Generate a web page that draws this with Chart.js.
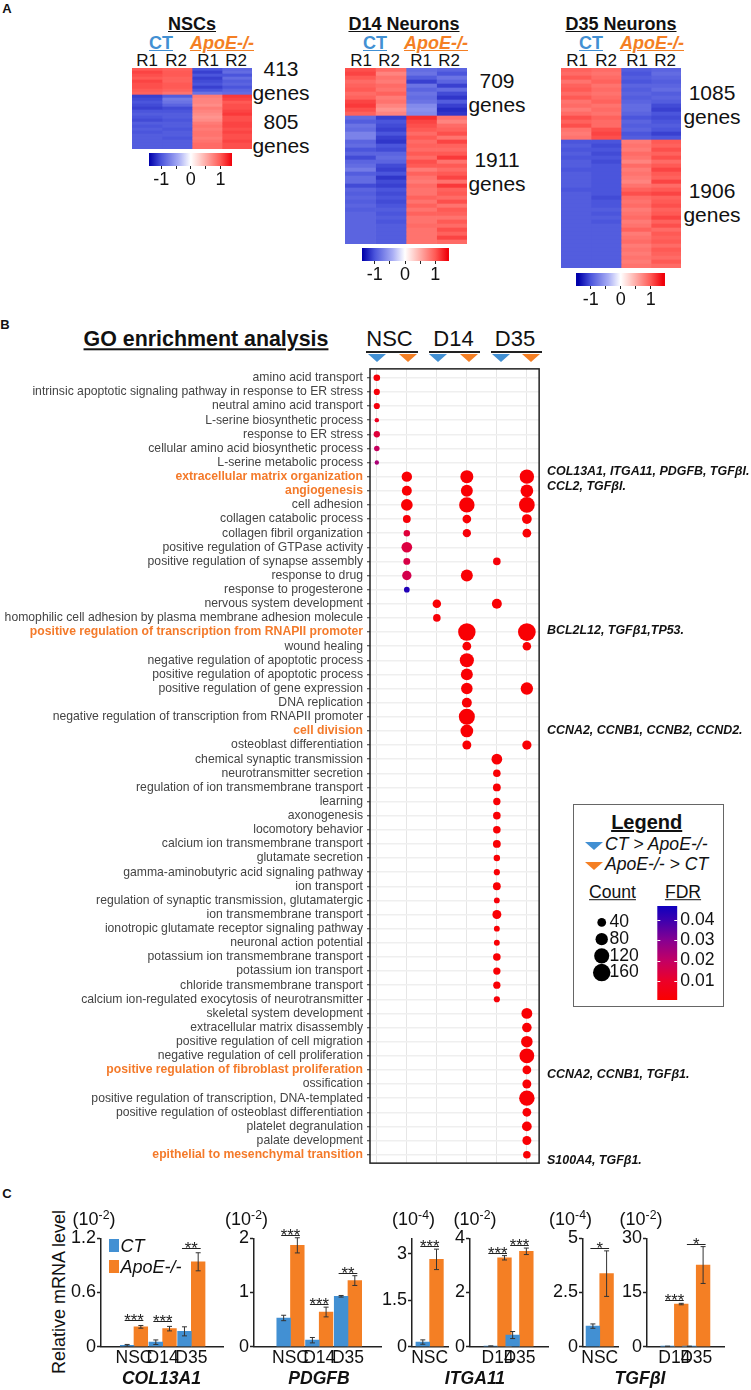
<!DOCTYPE html>
<html><head><meta charset="utf-8">
<script src="https://cdn.jsdelivr.net/npm/chart.js@4/dist/chart.umd.js"></script>
<style>
html,body{margin:0;padding:0;background:#fff;width:751px;height:1390px;overflow:hidden}
#page{position:relative;width:751px;height:1390px;font-family:"Liberation Sans",Arial,sans-serif;color:#111}
canvas{position:absolute;display:block}
.t{position:absolute;white-space:nowrap;line-height:1}
.t sup{font-size:.68em;line-height:0;vertical-align:.5em}
.tri{position:absolute;width:0;height:0;border-style:solid;border-color:transparent;border-bottom-width:0}
</style></head><body><div id="page"></div>
<script>
// ---------- heatmap values (z-scores, one array per sample column, top to bottom) ----------
const nscCtR1=[1.0,1.1,1.05,1.0,1.1,1.05,1.05,1.0,.95,-1.1,-1.05,-1.0,-1.05,-1.1,-1.0,-.95,-1.0,-1.05,-.95,-1.0,-.95,-1.0,-.95,-.95,-.95,-.95,-.95];
const nscCtR2=[.95,1.0,1.0,.95,.95,1.0,1.0,.95,.85,-.95,-.75,-.8,-.9,-1.05,-1.0,-.95,-.95,-1.0,-.95,-.95,-1.0,-.95,-.95,-1.0,-.95,-.95,-.95];
const nscKoR1=[-1.0,-1.1,-1.0,-1.1,-1.05,-1.0,-1.1,-1.0,-.8,.8,.75,.75,.7,.8,.75,.7,.65,.7,.8,.85,.8,.85,.85,.8,.85,.9,.9];
const nscKoR2=[-.9,-.85,-1.0,-.85,-.95,-.9,-1.0,-.9,-.85,1.15,1.1,1.0,1.05,1.05,1.1,1.15,1.05,1.05,1.1,1.1,1.05,1.1,1.05,1.05,1.1,1.05,1.05];
const d14CtR1=[1.05,1.1,1.0,.9,.95,1.0,.9,.95,1.1,1.15,1.05,.95,-.85,-.95,-.8,-.85,-.7,-.7,-.9,-.85,-1.0,-.9,-1.05,-.9,-.85,-.75,-.95,-.85,-.85,-1.05,-.9,-.95,-.9,-.95,-.9,-.95,-.9,-.9,-.9,-.9,-.9,-.9,-.9,-.9];
const d14CtR2=[.9,.75,.85,.8,.9,.85,.95,.8,.85,.75,.65,.75,-1.1,-1.0,-1.05,-1.1,-1.0,-1.1,-1.15,-1.0,-1.05,-.9,-.85,-.9,-1.05,-1.1,-1.0,-1.15,-1.05,-1.1,-1.0,-1.05,-1.0,-1.05,-1.0,-.95,-1.0,-.95,-1.0,-.95,-.95,-.95,-.95,-.95];
const d14KoR1=[-.85,-.8,-.95,-1.1,-.8,-.9,-.8,-.85,-.8,-.65,-.6,-.65,1.2,1.1,1.05,1.0,.9,1.0,.9,.95,.9,1.0,.9,1.05,1.0,.8,.95,.85,.8,.9,.85,.85,.95,.85,.95,.85,.95,.85,.85,.9,.85,.85,.85,.85];
const d14KoR2=[-.9,-1.0,-.8,-.9,-1.1,-.85,-1.05,-1.15,-.95,-1.1,-1.2,-1.15,.85,.75,.9,.95,1.05,.85,1.1,.95,.9,1.0,1.15,.85,1.0,.9,1.0,1.1,.85,1.15,.95,1.0,.9,1.05,.85,1.0,.95,.85,1.0,.9,1.05,.95,1.1,.9];
const d35CtR1=[.95,.9,1.0,.85,.95,1.0,.9,1.0,.85,.9,.8,.9,1.05,.95,1.05,.85,.8,.85,-1.0,-.95,-1.0,-.95,-1.0,-.95,-.95,-1.0,-.95,-.95,-.95,-.95,-1.0,-.95,-.95,-.95,-.95,-.95,-.95,-.95,-.95,-.95,-.95,-.95,-.95,-.95,-.95,-.95,-.95,-.95,-.95,-.95];
const d35CtR2=[.9,.85,.9,.95,.85,.9,.85,.9,.95,.85,.9,.85,.95,.9,.9,1.05,1.1,1.05,-1.0,-1.05,-1.0,-1.05,-1.0,-1.05,-1.0,-1.0,-1.0,-1.0,-1.0,-1.0,-1.0,-1.0,-1.05,-1.0,-1.0,-.95,-1.0,-.95,-1.0,-.95,-.95,-.95,-.95,-.95,-.95,-.95,-.95,-.95,-.95,-.95];
const d35KoR1=[-.95,-1.0,-.95,-1.0,-.9,-.95,-.9,-.95,-.9,-.85,-.85,-.9,-1.0,-.9,-.95,-.9,-1.0,-.95,.8,.85,.8,.9,.85,.75,.9,.8,.85,.8,.75,.85,.95,1.05,.9,.85,.9,.8,.85,.9,.8,.85,.95,.8,.85,.9,.8,.85,.8,.85,.8,.85];
const d35KoR2=[-.9,-.85,-.9,-.95,-.9,-.85,-.95,-.9,-.95,-1.05,-1.1,-1.0,-1.05,-1.0,-.95,-1.0,-1.1,-1.0,1.0,.95,1.05,.95,1.05,.9,1.0,1.1,1.0,.95,1.1,.9,1.0,1.1,.95,1.0,1.05,.95,1.0,1.1,.95,1.05,.9,1.0,.95,1.0,.9,1.0,.95,.9,1.0,.9];
const sampleLabels=["R1","R2","R1","R2"];

// ---------- GO terms ----------
const goTerms=["amino acid transport","intrinsic apoptotic signaling pathway in response to ER stress","neutral amino acid transport","L-serine biosynthetic process","response to ER stress","cellular amino acid biosynthetic process","L-serine metabolic process","extracellular matrix organization","angiogenesis","cell adhesion","collagen catabolic process","collagen fibril organization","positive regulation of GTPase activity","positive regulation of synapse assembly","response to drug","response to progesterone","nervous system development","homophilic cell adhesion by plasma membrane adhesion molecule","positive regulation of transcription from RNAPII promoter","wound healing","negative regulation of apoptotic process","positive regulation of apoptotic process","positive regulation of gene expression","DNA replication","negative regulation of transcription from RNAPII promoter","cell division","osteoblast differentiation","chemical synaptic transmission","neurotransmitter secretion","regulation of ion transmembrane transport","learning","axonogenesis","locomotory behavior","calcium ion transmembrane transport","glutamate secretion","gamma-aminobutyric acid signaling pathway","ion transport","regulation of synaptic transmission, glutamatergic","ion transmembrane transport","ionotropic glutamate receptor signaling pathway","neuronal action potential","potassium ion transmembrane transport","potassium ion transport","chloride transmembrane transport","calcium ion-regulated exocytosis of neurotransmitter","skeletal system development","extracellular matrix disassembly","positive regulation of cell migration","negative regulation of cell proliferation","positive regulation of fibroblast proliferation","ossification","positive regulation of transcription, DNA-templated","positive regulation of osteoblast differentiation","platelet degranulation","palate development","epithelial to mesenchymal transition"];
const goHighlighted=["extracellular matrix organization","angiogenesis","positive regulation of transcription from RNAPII promoter","cell division","positive regulation of fibroblast proliferation","epithelial to mesenchymal transition"];
// each dot: [term, count, FDR]
const nscCtDots=[["amino acid transport",23,.002],["intrinsic apoptotic signaling pathway in response to ER stress",20,.002],["neutral amino acid transport",20,.003],["L-serine biosynthetic process",10,.008],["response to ER stress",21,.013],["cellular amino acid biosynthetic process",16,.019],["L-serine metabolic process",10,.024]];
const nscKoDots=[["extracellular matrix organization",57,.001],["angiogenesis",52,.001],["cell adhesion",72,.001],["collagen catabolic process",32,.002],["collagen fibril organization",22,.013],["positive regulation of GTPase activity",60,.014],["positive regulation of synapse assembly",25,.015],["response to drug",46,.016],["response to progesterone",17,.046]];
const d14CtDots=[["nervous system development",38,.001],["homophilic cell adhesion by plasma membrane adhesion molecule",30,.002]];
const d14KoDots=[["extracellular matrix organization",89,.001],["angiogenesis",75,.001],["cell adhesion",125,.001],["collagen catabolic process",40,.001],["collagen fibril organization",36,.002],["response to drug",75,.001],["positive regulation of transcription from RNAPII promoter",160,.001],["wound healing",40,.001],["negative regulation of apoptotic process",105,.001],["positive regulation of apoptotic process",75,.001],["positive regulation of gene expression",70,.001],["DNA replication",52,.001],["negative regulation of transcription from RNAPII promoter",135,.001],["cell division",85,.001],["osteoblast differentiation",42,.001]];
const d35CtDots=[["positive regulation of synapse assembly",30,.002],["nervous system development",52,.001],["chemical synaptic transmission",60,.001],["neurotransmitter secretion",30,.001],["regulation of ion transmembrane transport",32,.001],["learning",28,.001],["axonogenesis",30,.001],["locomotory behavior",30,.001],["calcium ion transmembrane transport",32,.001],["glutamate secretion",22,.001],["gamma-aminobutyric acid signaling pathway",20,.001],["ion transport",32,.001],["regulation of synaptic transmission, glutamatergic",18,.002],["ion transmembrane transport",42,.001],["ionotropic glutamate receptor signaling pathway",18,.001],["neuronal action potential",18,.001],["potassium ion transmembrane transport",30,.001],["potassium ion transport",28,.001],["chloride transmembrane transport",28,.001],["calcium ion-regulated exocytosis of neurotransmitter",20,.002]];
const d35KoDots=[["extracellular matrix organization",108,.001],["angiogenesis",85,.001],["cell adhesion",130,.001],["collagen catabolic process",50,.001],["collagen fibril organization",40,.001],["positive regulation of transcription from RNAPII promoter",165,.001],["wound healing",38,.001],["positive regulation of gene expression",80,.001],["osteoblast differentiation",45,.001],["skeletal system development",62,.001],["extracellular matrix disassembly",48,.001],["positive regulation of cell migration",70,.001],["negative regulation of cell proliferation",115,.001],["positive regulation of fibroblast proliferation",40,.001],["ossification",42,.001],["positive regulation of transcription, DNA-templated",125,.001],["positive regulation of osteoblast differentiation",40,.001],["platelet degranulation",50,.001],["palate development",42,.001],["epithelial to mesenchymal transition",30,.001]];
const legendCounts=[40,80,120,160];
const fdrTicks=[.01,.02,.03,.04];

// ---------- qPCR ----------
const col13Groups=["NSC","D14","D35"], col13Ct=[.015,.05,.17], col13CtErr=[.01,.025,.05], col13Ko=[.22,.20,.94], col13KoErr=[.015,.025,.1], col13Sig=["***","***","**"], col13Ticks=[0,.6,1.2];
const pdgfbGroups=["NSC","D14","D35"], pdgfbCt=[.53,.12,.93], pdgfbCtErr=[.05,.05,.015], pdgfbKo=[1.87,.64,1.22], pdgfbKoErr=[.14,.09,.09], pdgfbSig=["***","***","**"], pdgfbTicks=[0,1,2];
const itga4Groups=["NSC"], itga4Ct=[.15], itga4CtErr=[.07], itga4Ko=[2.82], itga4KoErr=[.33], itga4Sig=["***"], itga4Ticks=[0,1.5,3];
const itga2Groups=["D14","D35"], itga2Ct=[.02,.43], itga2CtErr=[.01,.13], itga2Ko=[3.28,3.52], itga2KoErr=[.08,.12], itga2Sig=["***","***"], itga2Ticks=[0,2,4];
const tgf4Groups=["NSC"], tgf4Ct=[.95], tgf4CtErr=[.1], tgf4Ko=[3.37], tgf4KoErr=[1.05], tgf4Sig=["*"], tgf4Ticks=[0,2.5,5];
const tgf2Groups=["D14","D35"], tgf2Ct=[.1,.1], tgf2CtErr=[.05,.05], tgf2Ko=[11.8,22.6], tgf2KoErr=[.2,5.1], tgf2Sig=["***","*"], tgf2Ticks=[0,15,30];

// ---------- helpers ----------
const BLUE="#4290d3", ORANGE="#f47f24", FONT='"Liberation Sans",Arial,sans-serif';
Chart.defaults.font.family=FONT; Chart.defaults.color="#111";
Chart.defaults.animation=false; Chart.defaults.responsive=false;
Chart.defaults.plugins.legend.display=false; Chart.defaults.plugins.tooltip.enabled=false;
Chart.defaults.events=[];
const page=document.getElementById("page");
function txt(html,x,y,size,o={}){const d=document.createElement("div");d.className="t";d.innerHTML=html;
 const tx={l:"0",c:"-50%",r:"-100%"}[o.a||"c"];
 d.style.cssText+=`left:${x}px;top:${y}px;font-size:${size}px;transform:translate(${tx},-50%)${o.rot?` rotate(${o.rot}deg)`:""};`+(o.b?"font-weight:bold;":"")+(o.i?"font-style:italic;":"")+(o.u?"text-decoration:underline;":"")+(o.c?`color:${o.c};`:"");
 page.appendChild(d);return d}
function tri(cx,top,w,h,color){const d=document.createElement("div");d.className="tri";
 d.style.cssText+=`left:${cx-w/2}px;top:${top}px;border-width:${h}px ${w/2}px 0 ${w/2}px;border-top-color:${color};`;page.appendChild(d)}
function cv(l,t,w,h){const c=document.createElement("canvas");c.width=w;c.height=h;c.style.left=l+"px";c.style.top=t+"px";c.style.width=w+"px";c.style.height=h+"px";page.appendChild(c);return c}
function fixBox(s,w,h){if(w!==null)s.width=w;if(h!==null)s.height=h;s.paddingLeft=s.paddingRight=s.paddingTop=s.paddingBottom=0}
const zStops=[[-1.41,[0,0,170]],[-1,[75,85,220]],[-.4,[170,175,245]],[0,[255,255,255]],[.4,[255,190,185]],[1,[255,90,85]],[1.41,[240,0,10]]];
const fdrStops=[[0,[250,0,0]],[.01,[236,0,40]],[.02,[195,0,100]],[.03,[135,0,145]],[.04,[60,0,175]],[.05,[15,0,190]]];
function ramp(stops,v){if(v<=stops[0][0])return `rgb(${stops[0][1]})`;
 for(let i=1;i<stops.length;i++){if(v<=stops[i][0]){const[a,ca]=stops[i-1],[b,cb]=stops[i],f=(v-a)/(b-a);
  return `rgb(${ca.map((c,k)=>Math.round(c+(cb[k]-c)*f))})`}}
 return `rgb(${stops[stops.length-1][1]})`}
const radius=c=>.69*Math.sqrt(c);

// ---------- panel A ----------
function heat(l,t,w,h,cols){const labels=cols[0].map((_,i)=>i);
 new Chart(cv(l,t,w,h),{type:"bar",data:{labels,datasets:cols.map((col,i)=>({label:sampleLabels[i],data:col.map(()=>1),backgroundColor:col.map(z=>ramp(zStops,z)),borderWidth:0,barPercentage:1,categoryPercentage:1}))},
 options:{indexAxis:"y",layout:{padding:0},scales:{x:{display:false,stacked:true,min:0,max:4},y:{display:false,stacked:true}}}})}
function zbar(left,right,zero,unit,top,bottom){
 const pad=12,H=bottom-top;
 new Chart(cv(left-pad,top,right-left+2*pad,H+24),{type:"bar",data:{labels:["z"],datasets:[{data:[[(left-zero)/unit,(right-zero)/unit]],borderWidth:0,barPercentage:1,categoryPercentage:1,
  backgroundColor:c=>{const a=c.chart.chartArea;if(!a)return"#fff";const g=c.chart.ctx.createLinearGradient(a.left,0,a.right,0);zStops.forEach(([z,col])=>{const p=(z-(left-zero)/unit)/((right-left)/unit);g.addColorStop(Math.min(1,Math.max(0,p)),`rgb(${col})`)});return g}}]},
 options:{indexAxis:"y",layout:{padding:{left:pad,right:pad}},scales:{y:{display:false},
  x:{min:(left-zero)/unit,max:(right-zero)/unit,afterBuildTicks:s=>{s.ticks=[-1,-.5,0,.5,1].map(value=>({value}))},afterFit:s=>fixBox(s,null,24),border:{display:false},
   grid:{drawOnChartArea:false,tickLength:3,tickColor:"#222",tickWidth:1},ticks:{font:{size:18},padding:0,autoSkip:false,maxRotation:0,color:"#111",callback:v=>Number.isInteger(v)?String(v):""}}}}})}
function heatHead(title,titleX,ctX,koX,rX){
 txt(title,titleX,24,18,{b:1,u:1});txt("CT",ctX,43,18,{b:1,u:1,c:BLUE});txt("ApoE-/-",koX,43,18,{b:1,i:1,u:1,c:ORANGE});
 sampleLabels.forEach((s,i)=>txt(s,rX[i],59.5,17))}
txt("A",7,8,13,{b:1});
heatHead("NSCs",192,161,222,[147,176,208,236]);
heat(132,68,120,81,[nscCtR1,nscCtR2,nscKoR1,nscKoR2]);
zbar(148.5,232,190.6,29.8,153,166);
txt("413",281,67.5,21);txt("genes",281,92,21);txt("805",281,120.5,21);txt("genes",281,145,21);
heatHead("D14 Neurons",404,375,436,[361,389,421,449]);
heat(345,68,122,176,[d14CtR1,d14CtR2,d14KoR1,d14KoR2]);
zbar(362,449,405,30.2,248,261);
txt("709",497,79.5,21);txt("genes",497,104,21);txt("1911",497,158.5,21);txt("genes",497,183,21);
heatHead("D35 Neurons",621,591,652,[577,606,637,665]);
heat(561,68,120,200,[d35CtR1,d35CtR2,d35KoR1,d35KoR2]);
zbar(576,665,620.7,30,273,286);
txt("1085",712,91.5,21);txt("genes",712,116,21);txt("1906",712,189.5,21);txt("genes",712,214,21);

// ---------- panel B ----------
txt("B",5,323.5,13,{b:1});
txt("GO enrichment analysis",206,340,21.4,{b:1,u:1});
txt("NSC",389.5,339,22);txt("D14",453.5,339,22);txt("D35",515,339,22);
[[366,418],[428.6,480],[491,542]].forEach(([a,b])=>{const d=document.createElement("div");d.style.cssText=`position:absolute;left:${a}px;top:351px;width:${b-a}px;height:2px;background:#222`;page.appendChild(d)});
const colX=[377,408,438.7,469.4,501,531];
colX.forEach((x,i)=>tri(x,354,18.5,8,i%2?ORANGE:BLUE));
const goCols=[nscCtDots,nscKoDots,d14CtDots,d14KoDots,d35CtDots,d35KoDots];
const frame={id:"frame",afterDatasetsDraw(c){const a=c.chartArea,x=c.ctx;x.save();x.strokeStyle="#222";x.lineWidth=1.5;x.strokeRect(a.left,a.top,a.right-a.left,a.bottom-a.top);x.restore()}};
const isHi=c=>c.tick&&goHighlighted.includes(goTerms[c.tick.value]);
new Chart(cv(0,360,548,812),{type:"bubble",plugins:[frame],
 data:{datasets:goCols.map((dots,i)=>({label:"col"+i,clip:false,borderWidth:0,data:dots.map(([term,count])=>({x:i,y:goTerms.indexOf(term),r:radius(count)})),backgroundColor:dots.map(d=>ramp(fdrStops,d[2]))}))},
 options:{layout:{padding:{top:3,bottom:4.3,right:4.4}},scales:{
  x:{type:"linear",min:-(7/30.8),max:5+12.6/30.8,afterBuildTicks:s=>{s.ticks=[0,1,2,3,4,5].map(value=>({value}))},afterFit:s=>fixBox(s,null,0),border:{display:false},grid:{color:"#e6e6e6",lineWidth:1,drawTicks:false},ticks:{display:false}},
  y:{type:"linear",reverse:true,min:-.63,max:55.6,afterBuildTicks:s=>{s.ticks=goTerms.map((_,value)=>({value}))},afterFit:s=>fixBox(s,370,null),border:{display:false},
   grid:{color:"#efefef",lineWidth:1.5,tickColor:"#333",tickLength:3,tickWidth:1},
   ticks:{autoSkip:false,padding:4,callback:v=>goTerms[v],color:c=>isHi(c)?"#f47a2a":"#444",font:c=>isHi(c)?{size:12.2,weight:"bold"}:{size:12.2}}}}}});
const B={b:1,i:1,a:"l"};
[["COL13A1, ITGA11, PDGFB, TGF&beta;I.",471],["CCL2, TGF&beta;I.",485.5],["BCL2L12, TGF&beta;1,TP53.",629.5],["CCNA2, CCNB1, CCNB2, CCND2.",730],["CCNA2, CCNB1, TGF&beta;1.",1073.5],["S100A4, TGF&beta;1.",1159.5]].forEach(([s,y])=>txt(s,547,y,12.45,B));

// legend box
const box=document.createElement("div");box.style.cssText="position:absolute;left:573px;top:804px;width:149px;height:201px;border:1.5px solid #666";page.appendChild(box);
txt("Legend",646.7,822,20,{b:1,u:1});
tri(594.5,842,19,8,BLUE);txt("CT &gt; ApoE-/-",605,845,17.6,{i:1,a:"l"});
tri(594.5,862,19,8,ORANGE);txt("ApoE-/- &gt; CT",605,865,17.6,{i:1,a:"l"});
txt("Count",612.5,893,17.6,{u:1});txt("FDR",683,893,17.6,{u:1});
new Chart(cv(585,905,60,85),{type:"bubble",data:{datasets:[{clip:false,borderWidth:0,backgroundColor:"#000",data:legendCounts.map((c,i)=>({x:0,y:i,r:radius(c)}))}]},
 options:{layout:{padding:0},scales:{
  x:{type:"linear",display:false,min:-12.7,max:10.8},
  y:{type:"linear",position:"right",reverse:true,min:-.52,max:3.52,afterBuildTicks:s=>{s.ticks=legendCounts.map((_,value)=>({value}))},afterFit:s=>fixBox(s,36.5,null),border:{display:false},grid:{display:false,drawTicks:false},
   ticks:{autoSkip:false,padding:1,font:{size:17.6},color:"#111",crossAlign:"near",callback:v=>String(legendCounts[v])}}}}});
const whiteTicks={id:"wt",afterDatasetsDraw(c){const a=c.chartArea,x=c.ctx,y=c.scales.y;x.save();x.strokeStyle="#fff";x.lineWidth=1;fdrTicks.forEach(v=>{const p=Math.round(y.getPixelForValue(v))+.5;x.beginPath();x.moveTo(a.left,p);x.lineTo(a.left+3,p);x.moveTo(a.right-3,p);x.lineTo(a.right,p);x.stroke()});x.restore()}};
new Chart(cv(650,900,72,106),{type:"bar",plugins:[whiteTicks],data:{labels:["FDR"],datasets:[{data:[[.0006,.0469]],borderWidth:0,barPercentage:1,categoryPercentage:1,
  backgroundColor:c=>{const a=c.chart.chartArea;if(!a)return"#fff";const g=c.chart.ctx.createLinearGradient(0,a.bottom,0,a.top);fdrStops.forEach(([v,col])=>{g.addColorStop(Math.min(1,Math.max(0,(v-.0006)/.0463)),`rgb(${col})`)});return g}}]},
 options:{layout:{padding:{left:7.3,top:6,bottom:6}},scales:{x:{display:false},
  y:{position:"right",min:.0006,max:.0469,afterBuildTicks:s=>{s.ticks=fdrTicks.map(value=>({value}))},afterFit:s=>fixBox(s,44.7,null),border:{display:false},grid:{display:false,drawTicks:false},
   ticks:{padding:3,font:{size:17.6},color:"#111",crossAlign:"near",callback:v=>v.toFixed(2)}}}}});

// ---------- panel C ----------
txt("C",7,1193,13,{b:1});
txt("Relative mRNA level",58.5,1291.7,18,{rot:-90});
const errSig={id:"errSig",afterDatasetsDraw(c,_,o){const x=c.ctx,y=c.scales.y;x.save();
 c.data.datasets.forEach((ds,di)=>{const m=c.getDatasetMeta(di);m.data.forEach((bar,i)=>{const v=ds.data[i].y,e=ds.err[i],top=y.getPixelForValue(v+e),bot=y.getPixelForValue(v-e);
  x.strokeStyle="#333";x.lineWidth=1;x.beginPath();x.moveTo(bar.x,top);x.lineTo(bar.x,bot);x.moveTo(bar.x-2.5,top);x.lineTo(bar.x+2.5,top);x.moveTo(bar.x-2.5,bot);x.lineTo(bar.x+2.5,bot);x.stroke()})});
 const a=c.getDatasetMeta(0).data,b=c.getDatasetMeta(1).data,ko=c.data.datasets[1];
 o.sig.forEach((s,i)=>{const ly=Math.round(y.getPixelForValue(ko.data[i].y+ko.err[i])-o.gap)+.5,x0=a[i].x-2.5,x1=b[i].x+2.5;
  x.strokeStyle="#222";x.lineWidth=1;x.beginPath();x.moveTo(x0,ly);x.lineTo(x1,ly);x.stroke();
  x.fillStyle="#222";x.font=`16.7px ${FONT}`;x.textAlign="center";x.textBaseline="alphabetic";x.fillText(s,(x0+x1)/2,ly+5.7)});
 x.restore()}};
function qpcr(L,R,c0,S,top,groups,ct,ctErr,ko,koErr,sig,ticks,gap){
 const fit=42,T=1205,Y0=1238.3,Y1=1346.7;
 new Chart(cv(Math.round(L)-fit,T,Math.round(R-L)+fit+8,170),{type:"bar",plugins:[errSig],
 data:{datasets:[{label:"CT",err:ctErr,data:ct.map((y,x)=>({x,y})),backgroundColor:BLUE,borderWidth:0,barThickness:13.7},{label:"ApoE-/-",err:koErr,data:ko.map((y,x)=>({x,y})),backgroundColor:ORANGE,borderWidth:0,barThickness:13.7}]},
 options:{layout:{padding:{top:Y0-T,right:8}},plugins:{errSig:{sig,gap}},scales:{
  x:{type:"linear",min:-(c0-L)/S,max:(R-c0)/S,afterBuildTicks:s=>{s.ticks=groups.map((_,value)=>({value}))},afterFit:s=>fixBox(s,null,170-(Y1-T)),border:{color:"#222",width:1.5},grid:{display:false,drawTicks:false},
   ticks:{autoSkip:false,maxRotation:0,padding:1,font:{size:17.5},color:"#111",callback:v=>groups[v]}},
  y:{min:0,max:top,afterBuildTicks:s=>{s.ticks=ticks.map(value=>({value}))},afterFit:s=>fixBox(s,fit,null),border:{color:"#222",width:1.5},grid:{drawOnChartArea:false,tickLength:4,tickColor:"#222",tickWidth:1.5},
   ticks:{padding:1,font:{size:18},color:"#111",autoSkip:false,callback:v=>String(v)}}}}})}
qpcr(101,223,120,43,1.2,col13Groups,col13Ct,col13CtErr,col13Ko,col13KoErr,col13Sig,col13Ticks,5);
qpcr(254,381,277,43.1,2,pdgfbGroups,pdgfbCt,pdgfbCtErr,pdgfbKo,pdgfbKoErr,pdgfbSig,pdgfbTicks,3);
qpcr(412,448,429.3,43,3.5,itga4Groups,itga4Ct,itga4CtErr,itga4Ko,itga4KoErr,itga4Sig,itga4Ticks,3);
qpcr(470,548,486.3,43.7,4,itga2Groups,itga2Ct,itga2CtErr,itga2Ko,itga2KoErr,itga2Sig,itga2Ticks,3);
qpcr(583,618,599,43,5,tgf4Groups,tgf4Ct,tgf4CtErr,tgf4Ko,tgf4KoErr,tgf4Sig,tgf4Ticks,3);
qpcr(647,724,663.3,43.7,30,tgf2Groups,tgf2Ct,tgf2CtErr,tgf2Ko,tgf2KoErr,tgf2Sig,tgf2Ticks,3);
[["-2",94],["-2",246.5],["-4",413.5],["-2",475],["-4",570.5],["-2",641]].forEach(([e,x])=>txt(`(10<sup>${e}</sup>)`,x,1219,18));
[["COL13A1",161.5],["PDGFB",319],["ITGA11",475],["TGF&beta;I",640]].forEach(([s,x])=>txt(s,x,1378.5,17.6,{b:1,i:1}));
[[1239,BLUE,"CT",1245.5],[1260,ORANGE,"ApoE-/-",1266.5]].forEach(([t,col,s,y])=>{const d=document.createElement("div");d.style.cssText=`position:absolute;left:109px;top:${t}px;width:10px;height:13px;background:${col}`;page.appendChild(d);txt(s,120.5,y,18,{i:1,a:"l"})});
</script></body></html>
